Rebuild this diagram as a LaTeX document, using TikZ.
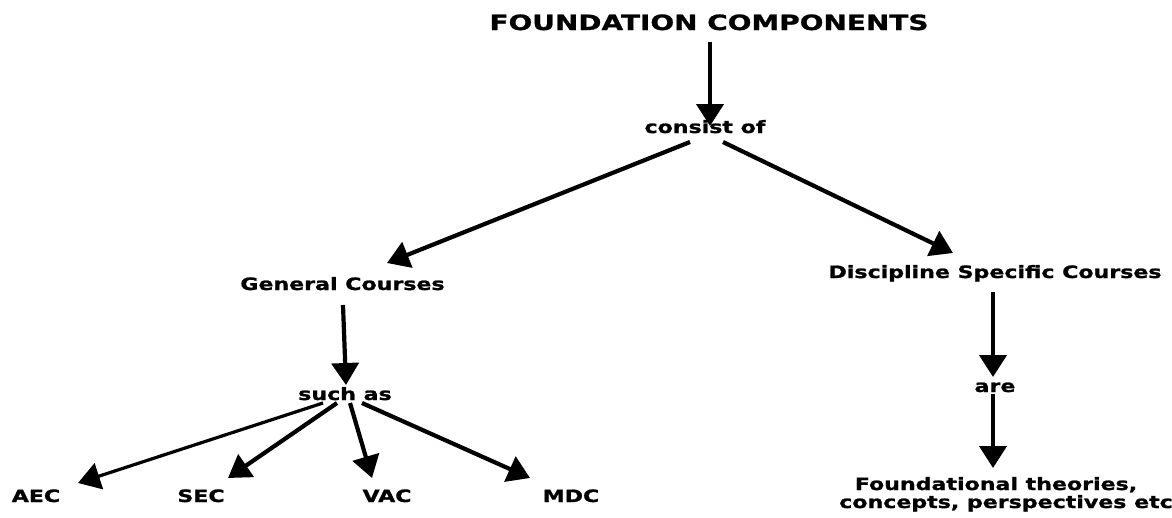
\documentclass[tikz,border=0pt]{standalone}
\usepackage{fontspec}
\usetikzlibrary{arrows.meta}
\newfontfamily\bodyfont{DejaVu Sans}[FakeStretch=1.30,FakeBold=1.2]
\newfontfamily\titlefont{DejaVu Sans}[FakeStretch=1.33,FakeBold=1.2]
\begin{document}
\begin{tikzpicture}[x=1pt,y=-1pt,
  lbl/.style={anchor=base,inner sep=0pt,font=\bodyfont\bfseries\fontsize{17}{19}\selectfont},
  ttl/.style={anchor=base,inner sep=0pt,font=\titlefont\bfseries\fontsize{21}{24}\selectfont},
  conn/.style={line width=4.2pt,-{Triangle[length=22pt,width=27pt]}}]
\useasboundingbox (0,0) rectangle (1172,517);
\node[ttl] (title) at (709,30) {FOUNDATION COMPONENTS};
\node[lbl] (consist) at (705,133) {consist of};
\node[lbl] (gc) at (342.5,290) {General Courses};
\node[lbl] (dsc) at (995,278) {Discipline Specific Courses};
\node[lbl] (such) at (345,400) {such as};
\node[lbl] (aec) at (36,502) {AEC};
\node[lbl] (sec) at (201,502) {SEC};
\node[lbl] (vac) at (387,502) {VAC};
\node[lbl] (mdc) at (571,502) {MDC};
\node[lbl] (are) at (995,392) {are};
\node[lbl] (found) at (996,490) {Foundational theories,};
\node[lbl] (found2) at (1006,508) {concepts, perspectives etc};

\draw[conn] ([shift={(1,12)}]title.base) -- ([shift={(5,-7)}]consist.base);
\draw[conn] ([shift={(-15,9)}]consist.base) -- ([shift={(44.5,-27)}]gc.base);
\draw[conn] ([shift={(18,9)}]consist.base) -- ([shift={(-42,-25)}]dsc.base);
\draw[conn] ([shift={(0.5,15)}]gc.base) -- ([shift={(1,-15)}]such.base);
\draw[conn,line width=3.2pt] ([shift={(-22,3)}]such.base) -- ([shift={(42,-19)}]aec.base);
\draw[conn] ([shift={(-8,3)}]such.base) -- ([shift={(27,-24)}]sec.base);
\draw[conn] ([shift={(5,3)}]such.base) -- ([shift={(-15,-24)}]vac.base);
\draw[conn] ([shift={(17,3)}]such.base) -- ([shift={(-41,-24)}]mdc.base);
\draw[conn] ([shift={(-2,14)}]dsc.base) -- ([shift={(-2,-15)}]are.base);
\draw[conn] ([shift={(-2,2)}]are.base) -- ([shift={(-3,-22)}]found.base);
\end{tikzpicture}
\end{document}
